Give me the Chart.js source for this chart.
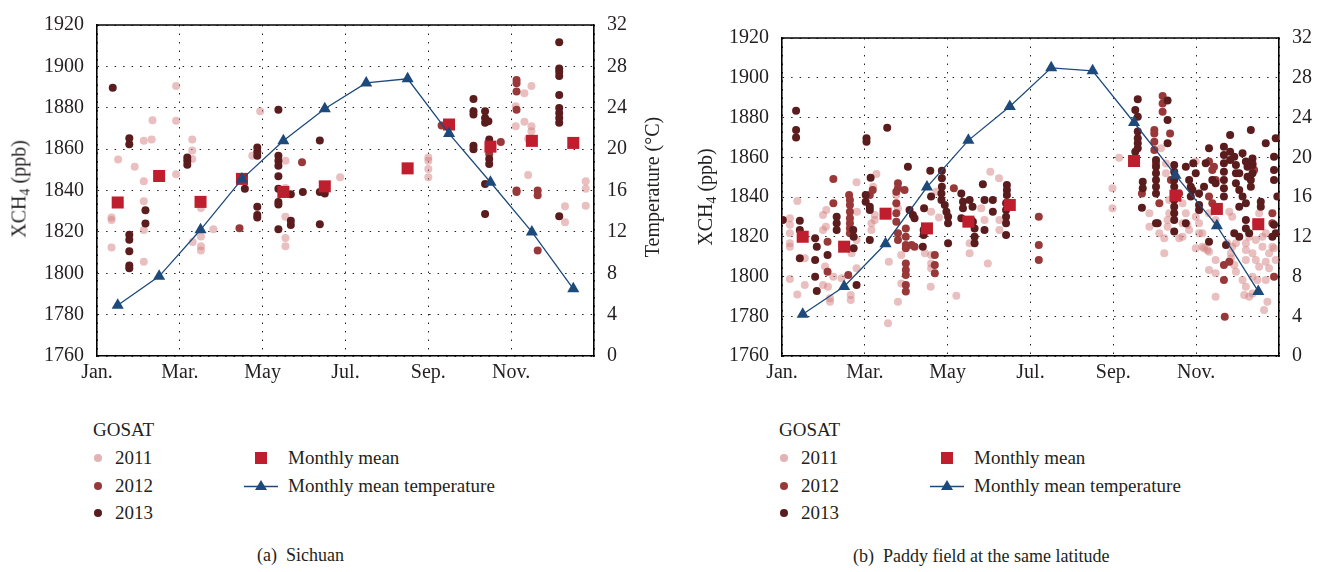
<!DOCTYPE html>
<html lang="en">
<head>
<meta charset="UTF-8">
<title>GOSAT XCH4 — Sichuan / paddy field</title>
<script src="https://cdn.jsdelivr.net/npm/chart.js"></script>
<style>
  * { box-sizing: border-box; margin: 0; padding: 0; }
  body { width: 1332px; height: 572px; background: #fff; position: relative; overflow: hidden;
         font-family: 'Liberation Serif', 'DejaVu Serif', serif; color: #231f20; }
  .panel { position: absolute; top: 0; height: 395px; }
  .ttl { position: absolute; font-size: 20px; white-space: nowrap; transform: translate(-50%, -50%) rotate(-90deg); }
  .ttl sub { font-size: 0.7em; vertical-align: baseline; position: relative; top: 0.3em; }
  .lg { position: absolute; font-size: 19px; line-height: 26px; height: 26px; white-space: nowrap; margin-top: -13px; }
  .dot { position: absolute; width: 8px; height: 8px; border-radius: 50%; margin: -4px 0 0 -4px; }
  .sq { position: absolute; width: 12px; height: 12px; margin: -6px 0 0 -6px; background: #be1e2d; }
  .cap { position: absolute; font-size: 18px; line-height: 24px; margin-top: -12px; white-space: nowrap; }
</style>
</head>
<body>

<div class="panel" style="left:0;width:680px"><canvas id="sichuan"></canvas></div>
<div class="panel" style="left:680px;width:652px"><canvas id="paddy"></canvas></div>

<div class="ttl" style="left:19px;top:189px">XCH<sub>4</sub> (ppb)</div>
<div class="ttl" style="left:652px;top:187px">Temperature (°C)</div>
<div class="ttl" style="left:705px;top:197px">XCH<sub>4</sub> (ppb)</div>

<div id="legends"></div>

<div class="cap" style="left:257px;top:555px">(a)&nbsp; Sichuan</div>
<div class="cap" style="left:853px;top:556px">(b)&nbsp; Paddy field at the same latitude</div>

<script>
// ─── Data ─────────────────────────────────────────────────────────────────────
// x = month position (0 = 1 Jan, 12 = 31 Dec), y = XCH4 in ppb
const monthTicks = ['Jan.', 'Mar.', 'May', 'Jul.', 'Sep.', 'Nov.'];
const years      = ['2011', '2012', '2013'];

// (a) Sichuan
const sichuan2011 = [
  [0.51,1855],[0.91,1851.5],[1.13,1864],[1.32,1864.7],[1.34,1874],[1.13,1844.5],[1.91,1890.5],[1.91,1873.7],
  [1.91,1847.9],[2.3,1864.6],[2.3,1859.3],[2.3,1855.2],[3.94,1878.3],[3.75,1856.8],[4.55,1854.4],[5.87,1846.4],
  [0.35,1827],[0.35,1825.8],[0.35,1812.5],[1.13,1834.8],[1.13,1820.9],[1.13,1805.5],[2.31,1815.1],[2.51,1831.6],
  [2.51,1817.8],[2.51,1813],[2.51,1811],[2.81,1821.3],[4.55,1841.2],[4.55,1827.3],[4.55,1817],[4.55,1813],
  [10.32,1887],[10.49,1890.5],[10.11,1880.7],[10.11,1871.1],[10.32,1873.2],[10.49,1871.1],[10.49,1868.7],
  [10.41,1865],[8.0,1856],[8.0,1854.4],[8.0,1850.4],[8.0,1846.4],[10.41,1847.5],[11.8,1844.5],[11.8,1840.8],
  [11.3,1832.4],[11.3,1824.6],[11.8,1832.6]
];
const sichuan2012 = [
  [4.95,1853.6],[3.44,1821.8],[10.13,1893.4],[10.13,1891.8],[10.13,1887.8],[10.13,1879],[9.75,1863.4],
  [8.32,1871.4],[10.13,1840],[10.13,1839.3],[10.64,1840],[10.64,1837.7],[10.64,1811],[9.47,1860],[9.47,1857.6]
];
const sichuan2013 = [
  [0.38,1889.7],[0.78,1865.2],[0.78,1862.3],[2.18,1856],[2.18,1854.4],[2.18,1852.5],[3.87,1860.8],[3.87,1858.7],
  [3.87,1856.8],[4.38,1879],[4.38,1856.8],[4.38,1854.4],[4.38,1852],[4.38,1846.9],[4.38,1840.8],[4.97,1839.3],
  [5.38,1864.2],[4.68,1838.2],[3.57,1840.8],[0.78,1818.6],[0.78,1816.2],[0.78,1810.6],[0.78,1803.8],[0.78,1802.4],
  [1.17,1830.5],[1.17,1824.1],[3.87,1832.1],[3.87,1828.1],[3.87,1826.9],[4.38,1834.5],[4.38,1833.2],[4.38,1821.3],
  [4.68,1825.4],[4.68,1823.3],[5.38,1839.3],[5.5,1838.5],[5.38,1823.7],
  [11.16,1911.7],[11.16,1899],[11.16,1897.4],[11.16,1895.3],[11.16,1886.2],[11.16,1879.9],[11.16,1877.5],
  [11.16,1875.1],[11.16,1872.7],[9.09,1884.2],[9.09,1878.3],[9.09,1876.7],[9.09,1861.6],[9.09,1860],
  [9.37,1878.3],[9.37,1875.1],[9.37,1872.7],[9.45,1873.5],[9.47,1864.7],[9.47,1862.3],[9.47,1855.2],
  [9.47,1852.8],[9.37,1843.2],[9.37,1828.6],[11.16,1827.6]
];
const sichuanMean = [1834.2, 1847, 1834.5, 1845.6, 1839.3, 1842, null, 1850.7, 1871.9, 1861.2, 1864, 1863];
const sichuanTemp = [4.9, 7.7, 12.2, 17.1, 20.8, 23.9, 26.4, 26.8, 21.5, 16.8, 12.0, 6.5];

// (b) Paddy field at the same latitude
const paddy2011 = [
  [1.8,1847.4],[2.28,1851.6],[5.03,1852.7],[5.24,1849.4],[0.37,1838],[0.19,1829.3],[0.19,1826],[0.19,1821.7],
  [0.19,1816.7],[0.19,1815],[0.19,1798.7],[0.37,1791],[0.55,1795.7],[0.55,1809.2],[0.99,1823.4],[1.06,1825],
  [0.99,1831],[1.07,1833.5],[1.04,1805],[0.99,1795.7],[1.11,1794.9],[1.16,1789],[1.16,1787.3],[1.24,1799.9],
  [1.44,1799.1],[1.81,1832.6],[1.8,1818.4],[1.8,1804.1],[1.68,1811.7],[1.66,1790.7],[1.66,1788.2],[2.2,1845.2],
  [2.16,1826.8],[2.16,1823.4],[2.24,1831],[2.24,1828.4],[2.58,1807.4],[2.56,1776.5],[2.8,1787.3],[2.76,1841],
  [2.8,1834.3],[2.88,1810.8],[2.88,1796.5],[3.6,1832.6],[3.6,1810.8],[3.6,1806.6],[3.6,1804.1],[3.59,1794.9],
  [3.45,1811.7],[3.73,1842.7],[3.79,1829.7],[4.21,1790.3],[4.53,1816.7],[4.53,1811.7],[4.81,1834.3],
  [4.89,1828.4],[4.97,1806.6],[5.25,1828.4],[5.25,1823.4],
  [8.14,1859.8],[7.98,1844.4],[7.98,1834.3],[9.15,1864.5],[9.27,1856.9],[9.27,1851.9],[8.87,1831.8],[8.87,1825],
  [9.11,1821.7],[9.23,1819.2],[9.23,1811.7],[9.31,1825],[9.31,1828.4],[9.35,1838.5],[9.35,1831.8],[9.59,1819.2],
  [9.67,1836.8],[9.75,1831.8],[9.79,1826],[9.99,1830.1],[9.99,1857.8],[10.07,1821.7],[10.15,1815],[10.27,1813.3],
  [10.31,1831.8],[10.47,1828.4],[10.8,1832.6],[10.87,1830.1],[10.75,1816.7],[10.84,1811.7],[10.84,1809.2],
  [10.47,1808.3],[10.47,1801.6],[10.31,1803.3],[10.47,1789.8],[10.96,1802.4],[11.2,1813.3],[11.2,1816.7],
  [11.28,1820],[11.36,1811.7],[11.44,1808.3],[11.52,1831.8],[11.44,1826.8],[11.6,1815],[11.6,1820],[11.2,1794.9],
  [11.36,1791.5],[11.28,1789.8],[11.48,1798.2],[11.68,1798.2],[11.72,1787.3],[11.64,1783.1],[11.68,1807.4],
  [11.76,1811.7],[11.84,1815],[9.67,1826.8],[9.83,1823.4],[10.07,1826.8],[9.67,1820],[9.99,1814.2],[10.15,1821.7],
  [10.96,1816.7],[11.2,1808.3],[11.44,1818.4],[11.52,1804.9],[10.87,1815],[11.36,1799.9],[11.68,1821.7],
  [11.12,1798.2],[11.16,1790.7],[10.8,1807.4],[10.92,1805.8],[10.19,1814.2],[10.31,1812.5],[11.92,1808.3],
  [11.88,1814.2],[11.76,1804.1]
];
const paddy2012 = [
  [1.24,1849.1],[2.8,1846.9],[2.8,1844.4],[2.12,1841],[2.19,1843.5],[1.62,1841],[1.1,1817.5],[1.1,1802.4],
  [1.24,1836.8],[1.64,1838.5],[1.64,1836],[1.64,1832.6],[1.64,1829.3],[1.64,1826.8],[1.64,1824.3],[1.64,1821.7],
  [1.6,1800.8],[2.76,1842.7],[2.96,1843.5],[2.76,1836.8],[2.76,1831.8],[2.76,1827.6],[2.8,1821.7],[2.8,1818.4],
  [2.99,1824.2],[2.99,1820],[2.99,1815.8],[2.99,1814.2],[2.99,1806.6],[2.99,1803.3],[2.99,1800.8],[2.99,1795.7],
  [2.99,1792.4],[3.13,1815.8],[3.2,1815],[3.69,1810.8],[3.69,1805.8],[3.69,1801.6],[4.15,1844.4],[4.57,1828.4],
  [6.2,1830.1],[6.2,1815.8],[6.2,1808.3],
  [9.19,1890.8],[9.19,1887.1],[9.19,1882.9],[8.99,1873.7],[8.99,1872],[8.99,1867.8],[8.99,1863.6],[9.37,1872],
  [8.69,1841.8],[9.11,1836.8],[9.39,1848.6],[9.59,1841.8],[10.31,1857.8],[10.43,1855.2],[10.31,1840.2],
  [10.39,1836.8],[10.67,1805.8],[10.8,1807.4],[10.67,1798.2],[11.84,1831.8],[11.84,1826.8],[11.88,1799.9],
  [9.03,1857],[11.36,1857],[11.4,1853.6],[10.39,1853.6],[10.47,1848.6],[10.69,1779.7]
];
const paddy2013 = [
  [0.34,1883.4],[0.34,1873.7],[0.34,1870],[2.04,1869.5],[2.04,1867.8],[2.14,1849.7],[2.54,1874.9],[3.04,1855.2],
  [3.58,1853.2],[3.86,1853.2],[3.86,1849.4],[3.86,1845.2],[4.85,1846.4],[5.43,1846],[5.43,1843.5],[5.43,1841],
  [0.02,1828.4],[0.43,1828],[0.43,1823.4],[0.43,1809.2],[0.8,1819.2],[0.8,1808.3],[0.8,1799.9],[0.84,1815],
  [0.84,1792.7],[1.1,1810.8],[1.32,1830.1],[1.32,1826.8],[1.32,1823.4],[1.72,1823.4],[1.73,1820],[1.73,1814.2],
  [1.8,1795.7],[2.02,1841],[2.02,1837.6],[2.12,1835.1],[2.12,1833.5],[2.12,1818.4],[3.08,1833.5],[3.16,1831],
  [3.2,1829.3],[3.4,1815],[3.43,1834.3],[3.42,1823.4],[3.42,1820.9],[3.85,1841.8],[3.6,1840.2],[3.85,1838.5],
  [3.93,1836],[3.97,1832.6],[4.01,1830.1],[4.01,1826.8],[4.01,1816.7],[4.33,1841.8],[4.37,1837.6],[4.37,1834.3],
  [4.33,1829.3],[4.53,1838.5],[4.6,1835.1],[4.61,1827.6],[4.65,1824.2],[4.65,1820],[4.65,1816.7],[4.89,1838.5],
  [4.89,1823.4],[5.09,1838.5],[5.09,1832.6],[5.41,1836.8],[5.41,1833.5],[5.41,1830.1],[5.41,1826.8],[5.41,1820.9],
  [8.59,1889.2],[8.53,1883.8],[8.59,1880.4],[8.59,1872.9],[8.59,1869.5],[8.59,1867],[8.59,1864.5],[8.53,1862.8],
  [8.71,1847.7],[8.71,1844.4],[8.69,1834.6],[9.31,1888.5],[9.31,1878.7],[9.31,1867],[9.03,1858.6],[9.03,1855.2],
  [9.03,1851.9],[9.03,1848.6],[9.03,1845.2],[9.03,1841.8],[9.47,1856.1],[9.47,1852.7],[9.47,1848.6],[9.47,1845.2],
  [9.47,1841.8],[9.47,1838.5],[9.47,1835.1],[9.47,1831.8],[9.47,1828.4],[9.07,1826.8],[9.47,1822.6],[9.75,1855.2],
  [9.83,1848.6],[9.87,1845.2],[9.87,1840.2],[9.91,1843.5],[10.07,1841.8],[9.99,1851.9],[10.07,1836],[10.07,1833.5],
  [10.31,1817.5],[10.31,1864.5],[10.39,1848.6],[10.67,1865.3],[10.67,1861.1],[10.67,1857],[10.67,1852.7],
  [10.67,1848.6],[10.67,1844.4],[10.67,1840.2],[10.82,1871.2],[10.82,1862.8],[10.82,1858.6],[10.92,1860.2],
  [10.96,1856.1],[10.96,1851.9],[10.96,1846.9],[11.12,1862],[11.2,1857.8],[11.32,1873.7],[11.36,1859.4],
  [11.36,1856.1],[11.36,1851.9],[11.32,1848.6],[11.32,1845.2],[11.04,1843.5],[11.04,1835.1],[11.12,1840.2],
  [11.2,1836.8],[11.2,1828.4],[11.2,1824.2],[10.92,1821.7],[11.04,1820],[11.56,1837.6],[11.56,1835.1],
  [11.92,1869.5],[11.88,1860.2],[11.88,1853.6],[11.88,1848.6],[11.96,1840.2],[11.88,1826],[11.92,1821.7],
  [11.84,1820],[9.93,1857],[10.23,1857],[11.68,1867],[11.24,1855.2],[11.24,1850.2],[11.04,1851.9],[10.47,1846.9],
  [10.19,1845.2],[10.72,1815.8],[9.03,1826.8],[9.75,1826.8],[11.28,1821.7]
];
const paddyMean = [1820, 1815, 1831.6, 1824.2, 1827.6, 1836, null, null, 1858.1, 1840.7, 1834, 1826.3];
const paddyTemp = [4.2, 7.0, 11.3, 17.0, 21.7, 25.1, 29.0, 28.7, 23.5, 18.2, 13.1, 6.5];

// ─── Styling ──────────────────────────────────────────────────────────────────
const TXT   = '#231f20';
const RED   = '#be1e2d';
const BLUE  = '#1d4a7a';
const yearColours  = ['rgba(212,128,128,0.5)', '#983838', '#5b1c1e'];
const legendDots   = ['#e3b2b2', '#983838', '#5b1c1e'];

Chart.defaults.font.family = "'Liberation Serif', 'DejaVu Serif', serif";
Chart.defaults.font.size   = 20;
Chart.defaults.color       = TXT;

// solid top edge of the plot box
const frameTop = {
  id: 'frameTop',
  beforeDatasetsDraw(chart) {
    const { ctx, chartArea: a } = chart;
    ctx.save();
    ctx.strokeStyle = '#000';
    ctx.lineWidth = 1.6;
    ctx.beginPath();
    ctx.moveTo(a.left, a.top);
    ctx.lineTo(a.right, a.top);
    ctx.stroke();
    ctx.restore();
  }
};

const toPts = arr => arr.map(([x, y]) => ({ x, y }));
const byMonth = arr => arr.map((v, i) => v == null ? null : { x: i + 0.5, y: v }).filter(Boolean);

function buildPanel(id, p) {
  const dotSet = (pts, i) => ({
    label: years[i], data: toPts(pts), yAxisID: 'y',
    backgroundColor: yearColours[i], borderWidth: 0, pointRadius: 4, pointHoverRadius: 4
  });
  const grid   = { color: '#222', lineWidth: 1, drawTicks: false };
  const border = { color: '#000', width: 1.6, dash: [1.5, 7] };

  new Chart(document.getElementById(id), {
    type: 'scatter',
    data: {
      datasets: [
        { label: 'Monthly mean temperature', data: byMonth(p.temp), yAxisID: 'yT', showLine: true,
          borderColor: BLUE, borderWidth: 1.3, pointStyle: 'triangle', pointRadius: 7,
          pointBackgroundColor: BLUE, pointBorderColor: BLUE, pointBorderWidth: 0 },
        { label: 'Monthly mean', data: byMonth(p.mean), yAxisID: 'y', pointStyle: 'rect',
          pointRadius: 8.5, backgroundColor: RED, borderWidth: 0 },
        dotSet(p.d2013, 2),
        dotSet(p.d2012, 1),
        dotSet(p.d2011, 0),
      ]
    },
    options: {
      animation: false,
      responsive: true,
      maintainAspectRatio: false,
      layout: { padding: { top: p.top, left: 0, right: 0, bottom: 0 } },
      plugins: { legend: { display: false }, tooltip: { enabled: false } },
      scales: {
        x: {
          type: 'linear', min: 0, max: 12,
          afterFit: s => { s.height = p.xH; },
          ticks: { stepSize: 2, maxRotation: 0, autoSkip: false, padding: 5,
                   callback: v => monthTicks[v / 2] ?? '' },
          grid, border
        },
        y: {
          position: 'left', min: 1760, max: 1920,
          afterFit: s => { s.width = p.yW; },
          ticks: { stepSize: 20, padding: 13, callback: v => String(v) },
          grid, border
        },
        yT: {
          position: 'right', min: 0, max: 32,
          afterFit: s => { s.width = p.tW; },
          ticks: { stepSize: 4, padding: 13, callback: v => String(v) },
          grid: { display: false, drawTicks: false },
          border: { color: '#000', width: 1.6 }
        }
      }
    },
    plugins: [frameTop]
  });
}

buildPanel('sichuan', { d2011: sichuan2011, d2012: sichuan2012, d2013: sichuan2013,
  mean: sichuanMean, temp: sichuanTemp, top: 21, xH: 39, yW: 97, tW: 86 });
buildPanel('paddy', { d2011: paddy2011, d2012: paddy2012, d2013: paddy2013,
  mean: paddyMean, temp: paddyTemp, top: 38, xH: 39, yW: 102, tW: 53 });

// ─── Legends (one per panel) ──────────────────────────────────────────────────
function legendHTML(x0) {
  let h = `<div class="lg" style="left:${x0 + 93}px;top:430px">GOSAT</div>`;
  years.forEach((yr, i) => {
    const cy = 458 + i * 27.5;
    h += `<div class="dot" style="left:${x0 + 98}px;top:${cy}px;background:${legendDots[i]}"></div>`;
    h += `<div class="lg" style="left:${x0 + 115}px;top:${cy}px">${yr}</div>`;
  });
  h += `<div class="sq" style="left:${x0 + 261}px;top:458px"></div>`;
  h += `<div class="lg" style="left:${x0 + 288}px;top:458px">Monthly mean</div>`;
  h += `<svg style="position:absolute;left:${x0 + 244}px;top:478px" width="34" height="16">
          <line x1="0" y1="8.5" x2="34" y2="8.5" stroke="${BLUE}" stroke-width="1.4"/>
          <polygon points="17,2 23,12 11,12" fill="${BLUE}"/></svg>`;
  h += `<div class="lg" style="left:${x0 + 288}px;top:486px">Monthly mean temperature</div>`;
  return h;
}
document.getElementById('legends').innerHTML = legendHTML(0) + legendHTML(686);
</script>
</body>
</html>
